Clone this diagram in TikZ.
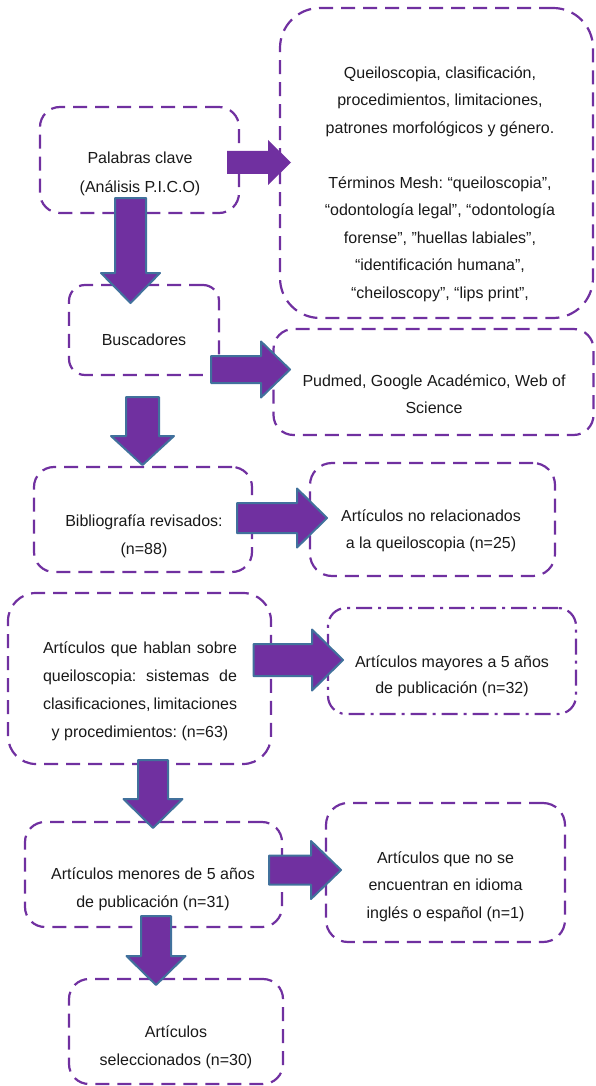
\documentclass[tikz,border=0pt]{standalone}
\usepackage{fontspec}
\setmainfont{Liberation Sans}
\frenchspacing
\definecolor{boxpurple}{HTML}{7030A0}
\definecolor{arrowblue}{HTML}{41719C}
\newcommand\rblock[7]{% style, x0, x1 (head start), tip x, yc, shaft half, head half
  \path[#1] (#2,#5-#6) -- (#3,#5-#6) -- (#3,#5-#7) -- (#4,#5) -- (#3,#5+#7) -- (#3,#5+#6) -- (#2,#5+#6) -- cycle;}
\newcommand\dblock[7]{% style, y0, y1 (head start), tip y, xc, shaft half, head half
  \path[#1] (#5-#6,#2) -- (#5-#6,#3) -- (#5-#7,#3) -- (#5,#4) -- (#5+#7,#3) -- (#5+#6,#3) -- (#5+#6,#2) -- cycle;}
\tikzset{
  flowbox/.style={draw=boxpurple, line width=2.2pt, dash pattern=on 14pt off 8pt, rounded corners=#1, inner sep=0pt},
  flowbox/.default=20pt,
  dashdotbox/.style={draw=boxpurple, line width=2.2pt, dash pattern=on 16pt off 6pt on 3pt off 6pt, rounded corners=18pt, inner sep=0pt},
  txt/.style={inner sep=0pt, anchor=base, align=center, font=\fontsize{16}{#1}\selectfont\frenchspacing, text=black!90},
  txt/.default=27.5pt,
  barrow/.style={fill=boxpurple, draw=arrowblue, line width=2pt, line join=round},
  barrowplain/.style={fill=boxpurple},
}
\begin{document}
\begin{tikzpicture}[x=1pt, y=-1pt]
\useasboundingbox (0,0) rectangle (595,1086);

% boxes
\node[flowbox, minimum width=199pt, minimum height=106pt] (A) at (139.5,160) {};
\node[flowbox=40pt, minimum width=313pt, minimum height=310pt] (B) at (436.5,163) {};
\node[flowbox=16pt, minimum width=150pt, minimum height=90pt] (C) at (144,330) {};
\node[flowbox, minimum width=320pt, minimum height=106pt] (D) at (433.5,382) {};
\node[flowbox, minimum width=218pt, minimum height=105pt] (E) at (143,519.5) {};
\node[flowbox=22pt, minimum width=245pt, minimum height=113pt] (F) at (432.5,519.5) {};
\node[flowbox=28pt, minimum width=263pt, minimum height=171pt] (G) at (139.5,678.5) {};
\node[dashdotbox, minimum width=248pt, minimum height=106pt] (H) at (452,661) {};
\node[flowbox, minimum width=257pt, minimum height=105pt] (I) at (153.5,874.5) {};
\node[flowbox=22pt, minimum width=239pt, minimum height=139pt] (J) at (445.5,872.5) {};
\node[flowbox, minimum width=214pt, minimum height=105pt] (K) at (176,1031.5) {};

% texts (anchored at the baseline of the last line)
\node[txt=29pt] (tA) at (140,193) {Palabras clave\\(Análisis P.I.C.O)};
\node[txt] (tB) at (440,298) {Queiloscopia, clasificación,\\procedimientos, limitaciones,\\patrones morfológicos y género.\\[27.5pt]Términos Mesh: “queiloscopia”,\\“odontología legal”, “odontología\\forense”, ”huellas labiales”,\\“identificación humana”,\\“cheiloscopy”, “lips print”,};
\node[txt] (tC) at (144,345) {Buscadores};
\node[txt=27pt] (tD) at (434,413) {Pudmed, Google Académico, Web of\\Science};
\node[txt=28pt] (tE) at (144,554) {Bibliografía revisados:\\(n=88)};
\node[txt=27pt] (tF) at (431,548) {Artículos no relacionados\\a la queiloscopia (n=25)};
\node[txt=28pt] (tG) at (140,737) {\makebox[194pt][s]{Artículos que hablan sobre}\\\makebox[194pt][s]{queiloscopia: sistemas de}\\\makebox[194pt][s]{clasificaciones, limitaciones}\\y procedimientos: (n=63)};
\node[txt=26pt] (tH) at (452,693) {Artículos mayores a 5 años\\de publicación (n=32)};
\node[txt=28pt] (tI) at (153,907) {Artículos menores de 5 años\\de publicación (n=31)};
\node[txt=27.5pt] (tJ) at (445.5,918) {Artículos que no se\\encuentran en idioma\\inglés o español (n=1)};
\node[txt=28pt] (tK) at (176,1065) {Artículos\\seleccionados (n=30)};

% block arrows
\rblock{barrowplain}{227}{268}{291}{162.5}{11.5}{22.5}
\dblock{barrow}{198}{273}{303}{130.5}{15.5}{29.5}
\rblock{barrow}{211}{261}{290}{369.5}{13.5}{28}
\dblock{barrow}{397}{436}{465}{142.5}{16.5}{31.5}
\rblock{barrow}{237}{297}{327}{518}{15}{29.5}
\rblock{barrow}{253.5}{312}{343}{660}{16}{30.5}
\dblock{barrow}{760}{799}{828}{153}{15}{29.5}
\rblock{barrow}{269}{311}{341}{870}{14.5}{29}
\dblock{barrow}{916}{956}{985}{156}{15}{29.5}
\end{tikzpicture}
\end{document}
